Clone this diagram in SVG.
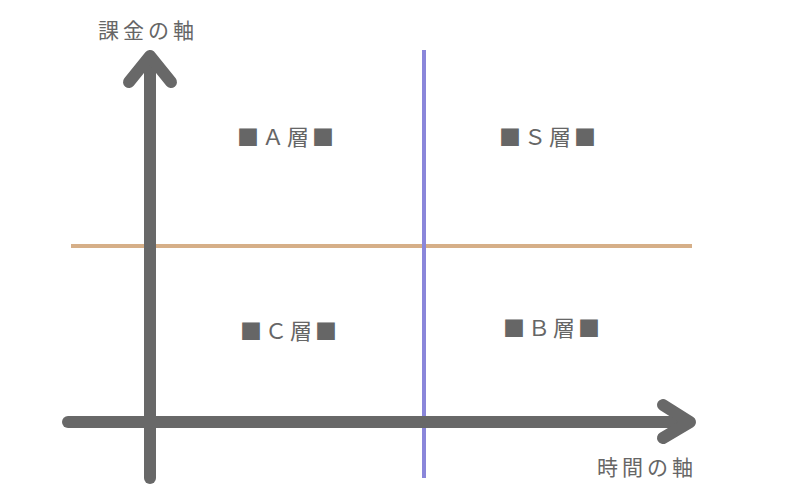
<svg xmlns="http://www.w3.org/2000/svg" width="800" height="500" viewBox="0 0 800 500">
<style>
.ax{stroke:#686868;stroke-width:12;stroke-linecap:round;stroke-linejoin:round;fill:none}
.t{font-family:"Noto Sans CJK JP","Noto Sans",sans-serif;fill:#666;}
.lab{font-size:22px;letter-spacing:3px;text-anchor:middle}
.axl{font-size:21px;letter-spacing:4px}
</style>
<rect width="800" height="500" fill="#fff"/>
<g id="connectors">
<line x1="71" y1="246" x2="692" y2="246" stroke="#d6af88" stroke-width="4"/>
<line x1="424" y1="50" x2="424" y2="478" stroke="#8a86da" stroke-width="4"/>
<line class="ax" x1="68" y1="422" x2="688" y2="422"/>
<polyline class="ax" points="663,405 690,422 663,438"/>
<line class="ax" x1="150" y1="478" x2="150" y2="58"/>
<polyline class="ax" points="129,82 150,56 171,82"/>
</g>
<g id="node-a"><text class="t lab" x="287" y="145">■Ａ層■</text></g>
<g id="node-s"><text class="t lab" x="549" y="145">■Ｓ層■</text></g>
<g id="node-c"><text class="t lab" x="290" y="339">■Ｃ層■</text></g>
<g id="node-b"><text class="t lab" x="553" y="336">■Ｂ層■</text></g>
<g id="label-y"><text class="t axl" x="98" y="38">課金の軸</text></g>
<g id="label-x"><text class="t axl" x="597" y="475">時間の軸</text></g>
</svg>
